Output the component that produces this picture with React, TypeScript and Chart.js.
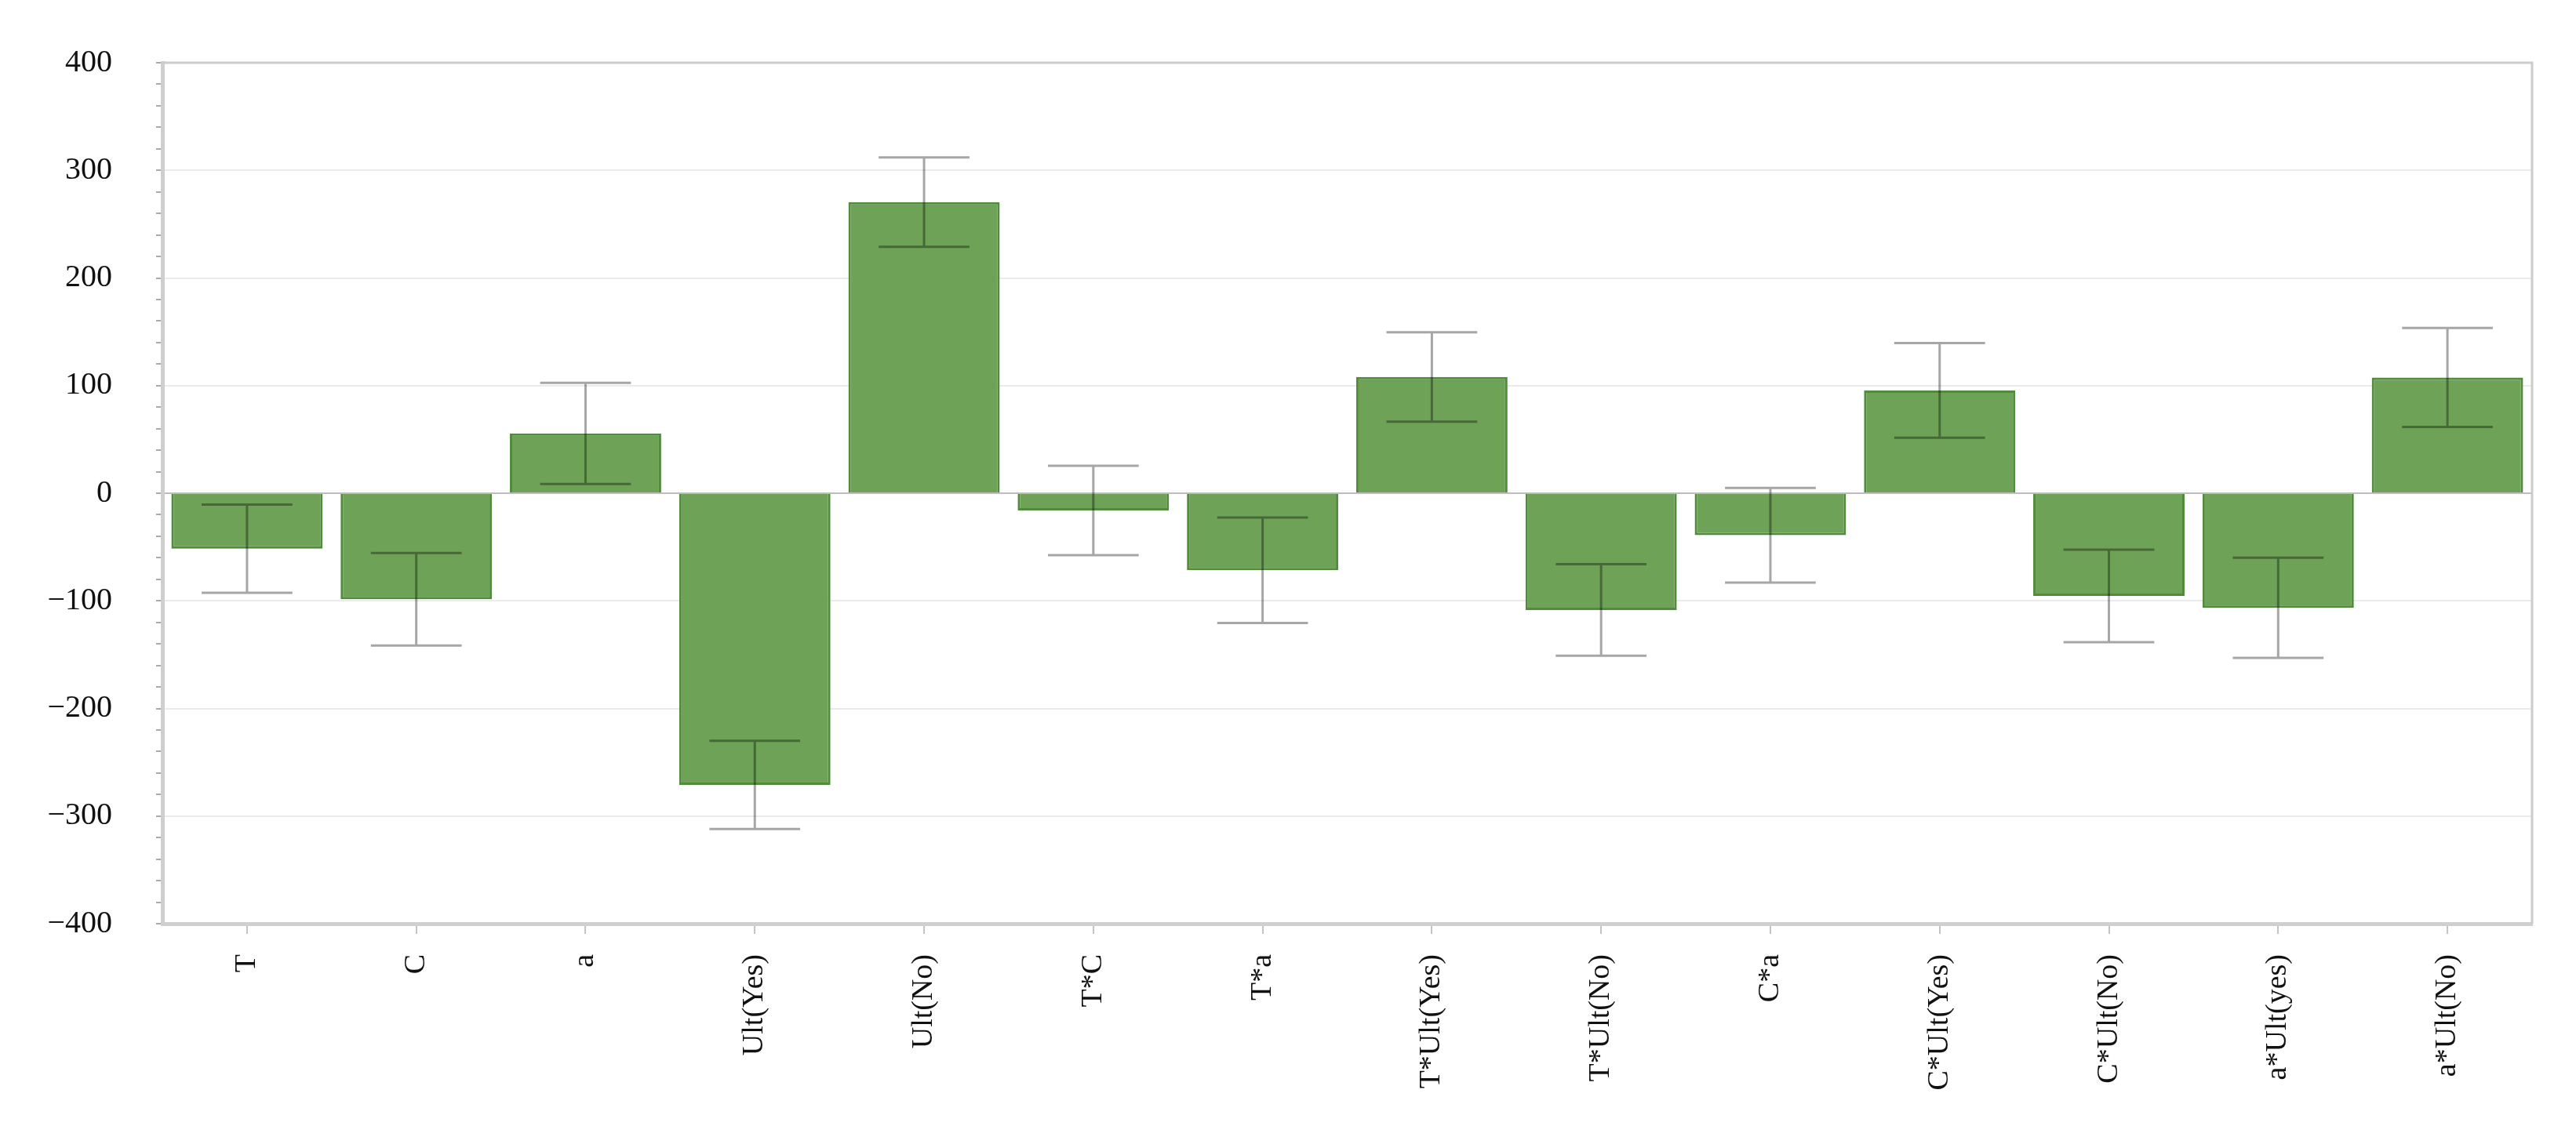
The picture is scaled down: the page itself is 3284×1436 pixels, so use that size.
import React, { useEffect, useRef } from "react";
import { Chart, registerables } from "chart.js";

Chart.register(...registerables);

const categories = [
  "T", "C", "a", "Ult(Yes)", "Ult(No)", "T*C", "T*a", "T*Ult(Yes)",
  "T*Ult(No)", "C*a", "C*Ult(Yes)", "C*Ult(No)", "a*Ult(yes)", "a*Ult(No)",
];
const values = [-51.5, -98.5, 55.5, -271, 270.5, -16, -71.5, 108, -108.5, -39, 95.5, -95.5, -106.5, 107.5];
const errors = [41, 43, 47, 41, 41.5, 41.5, 49, 41.5, 42.5, 44, 44, 43, 46.5, 46];
const yMin = -400;
const yMax = 400;
const yMinorStep = 20;
const yMajorStep = 100;

const FONT = "'Liberation Serif', 'Times New Roman', serif";

const errorBarPlugin = {
  id: "errorBars",
  afterDatasetsDraw(chart: any) {
    const meta = chart.getDatasetMeta(0);
    const yScale = chart.scales.y;
    const ctx = chart.ctx;
    ctx.save();
    ctx.strokeStyle = "rgba(0,0,0,0.35)";
    ctx.lineWidth = 3;
    meta.data.forEach((el: any, i: number) => {
      const v = values[i];
      const e = errors[i];
      const x = el.x;
      const cap = el.width * 0.6;
      const yTop = yScale.getPixelForValue(v + e);
      const yBot = yScale.getPixelForValue(v - e);
      ctx.beginPath();
      ctx.moveTo(x, yTop);
      ctx.lineTo(x, yBot);
      ctx.moveTo(x - cap / 2, yTop);
      ctx.lineTo(x + cap / 2, yTop);
      ctx.moveTo(x - cap / 2, yBot);
      ctx.lineTo(x + cap / 2, yBot);
      ctx.stroke();
    });
    ctx.restore();
  },
  afterDraw(chart: any) {
    const { ctx, chartArea } = chart;
    ctx.save();
    ctx.strokeStyle = "#cccccc";
    ctx.lineWidth = 3;
    ctx.beginPath();
    ctx.moveTo(chartArea.left, chartArea.top);
    ctx.lineTo(chartArea.right, chartArea.top);
    ctx.lineTo(chartArea.right, chartArea.bottom);
    ctx.stroke();
    ctx.restore();
  },
};

function fmt(v: number) {
  if (v < 0) return "\u2212" + Math.abs(v);
  return String(v);
}

export default function App() {
  const ref = useRef<HTMLCanvasElement | null>(null);
  useEffect(() => {
    if (!ref.current) return;
    const chart = new Chart(ref.current, {
      type: "bar",
      data: {
        labels: categories,
        datasets: [
          {
            data: values,
            backgroundColor: "#6da257",
            borderColor: "#518c3c",
            borderWidth: 3,
            barPercentage: 0.894,
            categoryPercentage: 1,
          },
        ],
      },
      options: {
        responsive: false,
        animation: false,
        devicePixelRatio: 1,
        layout: { padding: { top: 68, right: 56, left: 0, bottom: 0 } },
        plugins: { legend: { display: false }, tooltip: { enabled: false } },
        scales: {
          x: {
            grid: {
              drawOnChartArea: false,
              drawTicks: true,
              tickLength: 13,
              tickColor: "#c4c4c4",
              offset: false,
              lineWidth: 2,
            },
            border: { display: true, color: "#cfcfcf", width: 5 },
            ticks: {
              autoSkip: false,
              minRotation: 90,
              maxRotation: 90,
              padding: 26,
              color: "#111111",
              font: { family: FONT, size: 38 },
            },
            afterFit(scale: any) {
              scale.height = 258;
            },
          },
          y: {
            min: yMin,
            max: yMax,
            ticks: {
              stepSize: yMinorStep,
              autoSkip: false,
              padding: 56,
              color: "#111111",
              font: { family: FONT, size: 40 },
              callback: (v: any) => (Number(v) % yMajorStep === 0 ? fmt(Number(v)) : ""),
            },
            grid: {
              drawTicks: true,
              tickLength: 8,
              tickColor: "#aaaaaa",
              lineWidth: 2,
              color: (c: any) => {
                const v = c.tick ? c.tick.value : 0;
                if (v === 0) return "#bdbdbd";
                return v % yMajorStep === 0 ? "#ebebeb" : "rgba(0,0,0,0)";
              },
            },
            border: { display: true, color: "#cfcfcf", width: 5 },
            afterFit(scale: any) {
              scale.width = 207;
            },
          },
        },
      },
      plugins: [errorBarPlugin],
    });
    return () => chart.destroy();
  }, []);
  return (
    <div style={{ position: "fixed", left: 0, top: 0, width: 3284, height: 1436, background: "#ffffff" }}>
      <canvas ref={ref} width={3284} height={1436} style={{ width: 3284, height: 1436, display: "block" }} />
    </div>
  );
}
